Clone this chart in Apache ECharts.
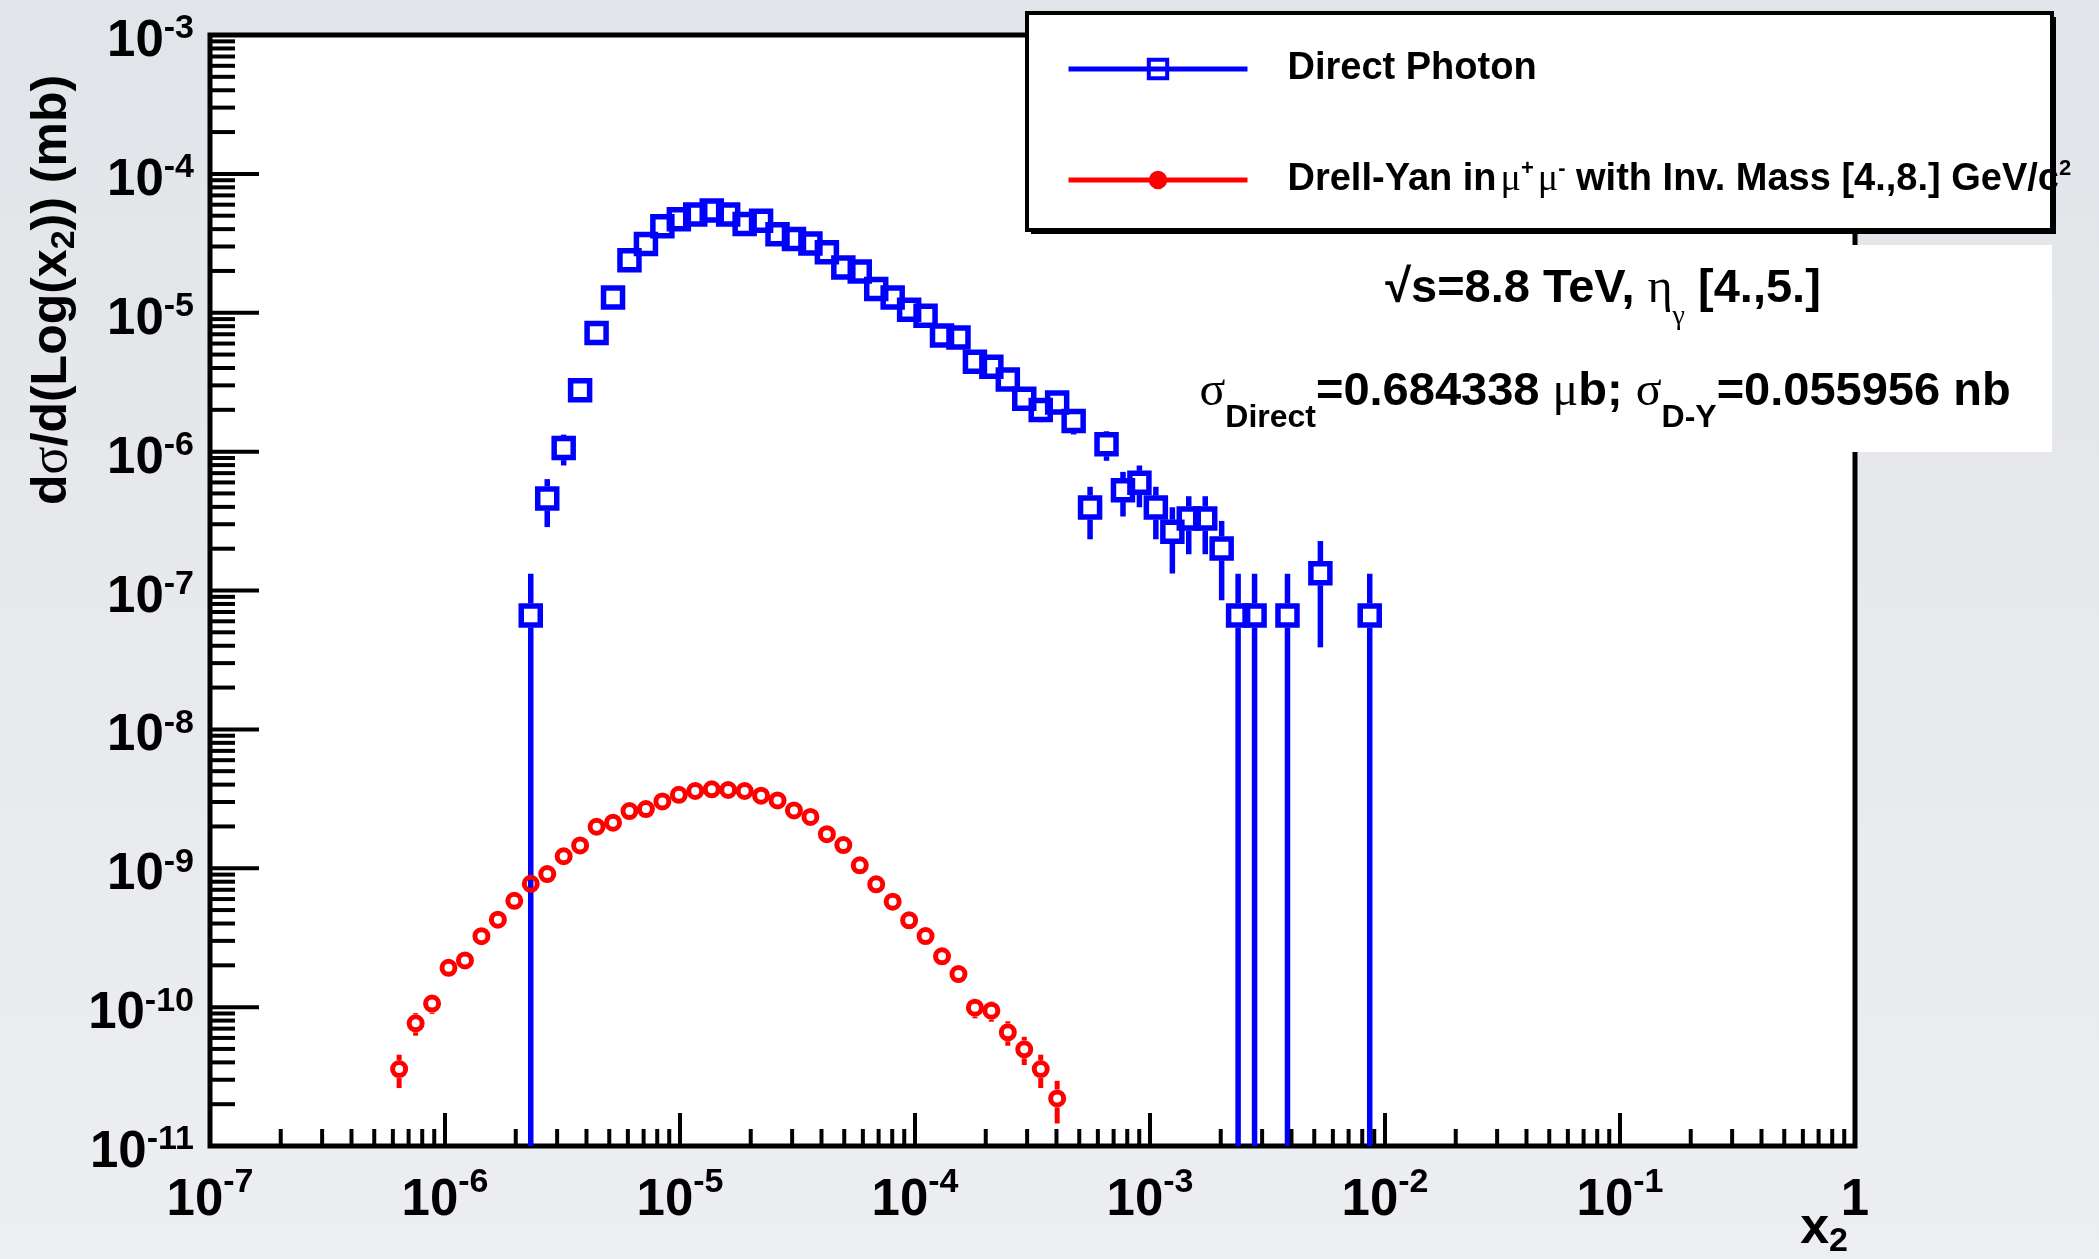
<!DOCTYPE html>
<html>
<head>
<meta charset="utf-8">
<script src="https://cdn.jsdelivr.net/npm/echarts@6/dist/echarts.min.js"></script>
<style>
html,body{margin:0;padding:0;background:#e6e8eb;}
#chart{width:2099px;height:1259px;}
</style>
</head>
<body>
<div id="chart"></div>
<script>
// ---------------- data ----------------
const seriesNames = ['Direct Photon', 'Drell-Yan in \u03bc+\u03bc- with Inv. Mass [4.,8.] GeV/c2'];
const legendTexts = ['Direct Photon', 'Drell-Yan in{g|\u03bc}{sp|+}{g|\u03bc}{sp|-} with Inv. Mass [4.,8.] GeV/c{sp|2}'];

// Direct photon: x2 bin centres, dsigma/dlog(x2) (mb), relative errors
const gammaX = [2.317e-6, 2.723e-6, 3.199e-6, 3.758e-6, 4.416e-6, 5.188e-6, 6.095e-6, 7.161e-6, 8.414e-6, 9.886e-6,
  1.161e-5, 1.365e-5, 1.603e-5, 1.884e-5, 2.213e-5, 2.600e-5, 3.055e-5, 3.589e-5, 4.217e-5, 4.955e-5, 5.821e-5, 6.839e-5, 8.035e-5, 9.441e-5,
  1.109e-4, 1.303e-4, 1.531e-4, 1.799e-4, 2.113e-4, 2.483e-4, 2.917e-4, 3.428e-4, 4.027e-4, 4.732e-4, 5.559e-4, 6.531e-4, 7.674e-4, 9.016e-4,
  1.059e-3, 1.245e-3, 1.462e-3, 1.718e-3, 2.018e-3, 2.371e-3, 2.786e-3, 3.846e-3, 5.309e-3, 8.610e-3];
const gammaY = [6.6e-8, 4.60e-7, 1.06e-6, 2.77e-6, 7.16e-6, 1.29e-5, 2.39e-5, 3.13e-5, 4.20e-5, 4.72e-5,
  5.10e-5, 5.44e-5, 5.10e-5, 4.35e-5, 4.59e-5, 3.68e-5, 3.40e-5, 3.15e-5, 2.73e-5, 2.12e-5, 1.98e-5, 1.48e-5, 1.29e-5, 1.05e-5,
  9.51e-6, 6.87e-6, 6.64e-6, 4.43e-6, 4.08e-6, 3.31e-6, 2.40e-6, 1.99e-6, 2.26e-6, 1.66e-6, 3.96e-7, 1.13e-6, 5.28e-7, 5.96e-7,
  3.96e-7, 2.65e-7, 3.30e-7, 3.30e-7, 2.01e-7, 6.6e-8, 6.6e-8, 6.6e-8, 1.33e-7, 6.6e-8];
const gammaRelErr = [1.0, 0.378, 0.25, 0.154, 0.096, 0.072, 0.053, 0.046, 0.04, 0.037,
  0.036, 0.035, 0.036, 0.039, 0.038, 0.042, 0.044, 0.046, 0.049, 0.056, 0.058, 0.067, 0.072, 0.079,
  0.083, 0.098, 0.1, 0.122, 0.127, 0.141, 0.166, 0.182, 0.171, 0.2, 0.41, 0.24, 0.354, 0.333,
  0.41, 0.5, 0.447, 0.447, 0.577, 1.0, 1.0, 1.0, 0.707, 1.0];

// Drell-Yan
const dyX = [6.38e-7, 7.50e-7, 8.81e-7, 1.035e-6, 1.216e-6, 1.429e-6, 1.679e-6, 1.972e-6, 2.317e-6, 2.723e-6, 3.199e-6, 3.758e-6,
  4.416e-6, 5.188e-6, 6.095e-6, 7.161e-6, 8.414e-6, 9.886e-6,
  1.161e-5, 1.365e-5, 1.603e-5, 1.884e-5, 2.213e-5, 2.600e-5, 3.055e-5, 3.589e-5, 4.217e-5, 4.955e-5, 5.821e-5, 6.839e-5, 8.035e-5, 9.441e-5,
  1.109e-4, 1.303e-4, 1.531e-4, 1.799e-4, 2.113e-4, 2.483e-4, 2.917e-4, 3.428e-4, 4.027e-4];
const dyY = [3.58e-11, 7.64e-11, 1.06e-10, 1.92e-10, 2.17e-10, 3.24e-10, 4.26e-10, 5.83e-10, 7.73e-10, 9.08e-10, 1.22e-9, 1.46e-9,
  1.99e-9, 2.13e-9, 2.58e-9, 2.67e-9, 3.03e-9, 3.38e-9,
  3.60e-9, 3.70e-9, 3.66e-9, 3.60e-9, 3.33e-9, 3.08e-9, 2.61e-9, 2.34e-9, 1.76e-9, 1.47e-9, 1.05e-9, 7.66e-10, 5.74e-10, 4.22e-10,
  3.25e-10, 2.32e-10, 1.73e-10, 9.91e-11, 9.42e-11, 6.59e-11, 4.97e-11, 3.58e-11, 2.20e-11];
const dyRelErr = [0.27, 0.185, 0.157, 0.116, 0.11, 0.09, 0.078, 0.067, 0.058, 0.054, 0.046, 0.042,
  0.036, 0.035, 0.032, 0.031, 0.029, 0.028,
  0.027, 0.027, 0.027, 0.027, 0.028, 0.029, 0.032, 0.033, 0.038, 0.042, 0.05, 0.058, 0.067, 0.078,
  0.09, 0.106, 0.123, 0.162, 0.166, 0.2, 0.23, 0.27, 0.34];

// axes
const xDecades = [-7, -6, -5, -4, -3, -2, -1, 0];
const yDecades = [-11, -10, -9, -8, -7, -6, -5, -4, -3];
const xTickLabels = [['10','-7'],['10','-6'],['10','-5'],['10','-4'],['10','-3'],['10','-2'],['10','-1'],['1','']];
const yTickLabels = [['10','-11'],['10','-10'],['10','-9'],['10','-8'],['10','-7'],['10','-6'],['10','-5'],['10','-4'],['10','-3']];
const minorMultipliers = [2, 3, 4, 5, 6, 7, 8, 9];

// ---------------- chart ----------------
const FONT = '"Liberation Sans", Arial, Helvetica, sans-serif';
const SERIF = '"Liberation Serif", "DejaVu Serif", serif';
const X_MIN = Math.pow(10, xDecades[0]), X_MAX = Math.pow(10, xDecades[xDecades.length - 1]);
const Y_MIN = Math.pow(10, yDecades[0]), Y_MAX = Math.pow(10, yDecades[yDecades.length - 1]);
const BLUE = '#0000ff', RED = '#ff0000';

const tickRows = [];
xDecades.forEach((e, i) => {
  tickRows.push([Math.pow(10, e), Y_MIN, 1, 0]);
  if (i < xDecades.length - 1) minorMultipliers.forEach(k => tickRows.push([k * Math.pow(10, e), Y_MIN, 0, 0]));
});
yDecades.forEach((e, i) => {
  tickRows.push([X_MIN, Math.pow(10, e), 1, 1]);
  if (i < yDecades.length - 1) minorMultipliers.forEach(k => tickRows.push([X_MIN, k * Math.pow(10, e), 0, 1]));
});

const gammaPts = gammaX.map((x, i) => [x, gammaY[i]]);
const gammaErr = gammaX.map((x, i) => [x, gammaY[i], gammaY[i] * gammaRelErr[i]]);
const dyPts = dyX.map((x, i) => [x, dyY[i]]);
const dyErr = dyX.map((x, i) => [x, dyY[i], dyY[i] * dyRelErr[i]]);

function errRender(color, gap, width) {
  return function (params, api) {
    const x = api.value(0), y = api.value(1), e = api.value(2);
    const c = api.coord([x, y]);
    const lo = api.coord([x, Math.max(y - e, Y_MIN)]);
    const hi = api.coord([x, y + e]);
    const children = [];
    const st = { stroke: color, lineWidth: width };
    if (lo[1] > c[1] + gap) children.push({ type: 'line', shape: { x1: c[0], y1: c[1] + gap, x2: c[0], y2: lo[1] }, style: st });
    if (hi[1] < c[1] - gap) children.push({ type: 'line', shape: { x1: c[0], y1: c[1] - gap, x2: c[0], y2: hi[1] }, style: st });
    return { type: 'group', children: children };
  };
}

function tickRender(params, api) {
  const p = api.coord([api.value(0), api.value(1)]);
  const major = api.value(2) === 1;
  const isY = api.value(3) === 1;
  const len = isY ? (major ? 49 : 25) : (major ? 33 : 17);
  const shape = isY ? { x1: p[0], y1: p[1], x2: p[0] + len, y2: p[1] } : { x1: p[0], y1: p[1], x2: p[0], y2: p[1] - len };
  return { type: 'line', shape: shape, style: { stroke: '#000', lineWidth: 4 } };
}

function labelFmt(labels, firstExp) {
  return function (v) {
    const e = Math.round(Math.log10(v));
    const l = labels[e - firstExp];
    if (!l) return '';
    return l[1] ? '{m|' + l[0] + '}{s|' + l[1] + '}' : '{m|' + l[0] + '}';
  };
}

const chart = echarts.init(document.getElementById('chart'), null, { renderer: 'canvas' });
chart.setOption({
  animation: false,
  backgroundColor: { type: 'linear', x: 0, y: 0, x2: 0, y2: 1, colorStops: [{ offset: 0, color: '#e1e4e8' }, { offset: 1, color: '#edeef1' }] },
  grid: { left: 210, right: 244, top: 35, bottom: 113, show: true, backgroundColor: '#ffffff', borderColor: '#000', borderWidth: 5, containLabel: false, outerBoundsMode: 'none' },
  xAxis: {
    type: 'log', logBase: 10, min: X_MIN, max: X_MAX,
    axisLine: { show: false }, axisTick: { show: false }, minorTick: { show: false }, splitLine: { show: false },
    axisLabel: {
      show: true, margin: 20, showMinLabel: true, showMaxLabel: true, hideOverlap: false,
      formatter: labelFmt(xTickLabels, xDecades[0]),
      rich: {
        m: { fontFamily: FONT, fontWeight: 'bold', fontSize: 51, lineHeight: 60, color: '#000', verticalAlign: 'bottom' },
        s: { fontFamily: FONT, fontWeight: 'bold', fontSize: 34, lineHeight: 24, color: '#000', verticalAlign: 'top' }
      }
    }
  },
  yAxis: {
    type: 'log', logBase: 10, min: Y_MIN, max: Y_MAX,
    axisLine: { show: false }, axisTick: { show: false }, minorTick: { show: false }, splitLine: { show: false },
    axisLabel: {
      show: true, margin: 16, showMinLabel: true, showMaxLabel: true, hideOverlap: false,
      padding: [14, 0, 0, 0],
      formatter: labelFmt(yTickLabels, yDecades[0]),
      rich: {
        m: { fontFamily: FONT, fontWeight: 'bold', fontSize: 51, lineHeight: 60, color: '#000', verticalAlign: 'middle' },
        s: { fontFamily: FONT, fontWeight: 'bold', fontSize: 34, lineHeight: 30, color: '#000', verticalAlign: 'top' }
      }
    }
  },
  legend: {
    orient: 'vertical', left: 1066, top: 47, padding: 0,
    itemWidth: 179, itemHeight: 23, itemGap: 67, z: 110,
    selectedMode: false,
    itemStyle: { borderWidth: 4 },
    lineStyle: { width: 5, opacity: 1 },
    data: [
      { name: seriesNames[0] },
      { name: seriesNames[1], itemStyle: { color: RED, borderColor: RED, borderWidth: 0 } }
    ],
    formatter: function (name) { return legendTexts[seriesNames.indexOf(name)]; },
    textStyle: {
      fontFamily: FONT, fontWeight: 'bold', fontSize: 38, color: '#000', lineHeight: 44, padding: [0, 0, 0, 35],
      rich: {
        g: { fontFamily: SERIF, fontWeight: 'normal', fontSize: 38, lineHeight: 44, color: '#000', padding: [0, 0, 0, 4] },
        sp: { fontFamily: FONT, fontWeight: 'bold', fontSize: 22, lineHeight: 22, color: '#000', verticalAlign: 'top' }
      }
    }
  },
  graphic: [
    { type: 'rect', z: 99, shape: { x: 1031, y: 17, width: 1025, height: 217 }, style: { fill: '#000' } },
    { type: 'rect', z: 100, shape: { x: 1027, y: 13, width: 1025, height: 217 }, style: { fill: '#fff', stroke: '#000', lineWidth: 4 } },
    { type: 'rect', z: 100, shape: { x: 1156, y: 245, width: 896, height: 207 }, style: { fill: '#fff' } },
    {
      type: 'text', z: 101, x: 1603, y: 289,
      style: {
        text: '\u221as=8.8 TeV, {g|\u03b7}{sb|\u03b3} [4.,5.]',
        fontFamily: FONT, fontWeight: 'bold', fontSize: 47, lineHeight: 84, fill: '#000', align: 'center', verticalAlign: 'middle',
        rich: {
          g: { fontFamily: SERIF, fontWeight: 'normal', fontSize: 48, lineHeight: 84, fill: '#000' },
          sb: { fontFamily: SERIF, fontWeight: 'normal', fontSize: 28, lineHeight: 44, fill: '#000', verticalAlign: 'bottom' }
        }
      }
    },
    {
      type: 'text', z: 101, x: 1605, y: 392,
      style: {
        text: '{g|\u03c3}{sb1|Direct}=0.684338 {g|\u03bc}b; {g|\u03c3}{sb2|D-Y}=0.055956 nb',
        fontFamily: FONT, fontWeight: 'bold', fontSize: 47, lineHeight: 84, fill: '#000', align: 'center', verticalAlign: 'middle',
        rich: {
          g: { fontFamily: SERIF, fontWeight: 'normal', fontSize: 48, lineHeight: 84, fill: '#000' },
          sb1: { fontFamily: FONT, fontWeight: 'bold', fontSize: 32, lineHeight: 38, fill: '#000', verticalAlign: 'bottom' },
          sb2: { fontFamily: FONT, fontWeight: 'bold', fontSize: 32, lineHeight: 22, fill: '#000', verticalAlign: 'bottom' }
        }
      }
    },
    {
      type: 'text', z: 101, x: 52, y: 290, rotation: Math.PI / 2,
      style: {
        text: 'd{g|\u03c3}/d(Log(x{sb|2})) (mb)',
        fontFamily: FONT, fontWeight: 'bold', fontSize: 50, lineHeight: 60, fill: '#000', align: 'center', verticalAlign: 'middle',
        rich: {
          g: { fontFamily: SERIF, fontWeight: 'normal', fontSize: 52, lineHeight: 60, fill: '#000' },
          sb: { fontFamily: FONT, fontWeight: 'bold', fontSize: 34, lineHeight: 24, fill: '#000', verticalAlign: 'bottom' }
        }
      }
    },
    {
      type: 'text', z: 101, x: 1848, y: 1229,
      style: {
        text: 'x{sb|2}',
        fontFamily: FONT, fontWeight: 'bold', fontSize: 52, lineHeight: 60, fill: '#000', align: 'right', verticalAlign: 'middle',
        rich: {
          sb: { fontFamily: FONT, fontWeight: 'bold', fontSize: 34, lineHeight: 26, fill: '#000', verticalAlign: 'bottom' }
        }
      }
    }
  ],
  series: [
    { type: 'custom', name: 'ticks', silent: true, z: 5, data: tickRows, renderItem: tickRender, encode: { x: 0, y: 1 } },
    { type: 'custom', name: 'gammaErr', silent: true, z: 1, data: gammaErr, renderItem: errRender(BLUE, 12, 5.5), encode: { x: 0, y: 1 } },
    { type: 'custom', name: 'dyErr', silent: true, z: 1, data: dyErr, renderItem: errRender(RED, 9, 5), encode: { x: 0, y: 1 } },
    {
      type: 'line', name: seriesNames[0], data: gammaPts, z: 3,
      symbol: 'rect', symbolSize: 19, showSymbol: true,
      itemStyle: { color: 'rgba(0,0,0,0)', borderColor: BLUE, borderWidth: 5.5 },
      lineStyle: { color: BLUE, width: 5, opacity: 0 },
      emphasis: { disabled: true }
    },
    {
      type: 'line', name: seriesNames[1], data: dyPts, z: 4,
      symbol: 'circle', symbolSize: 13, showSymbol: true,
      itemStyle: { color: 'rgba(0,0,0,0)', borderColor: RED, borderWidth: 5 },
      lineStyle: { color: RED, width: 5, opacity: 0 },
      emphasis: { disabled: true }
    }
  ]
});
</script>
</body>
</html>
